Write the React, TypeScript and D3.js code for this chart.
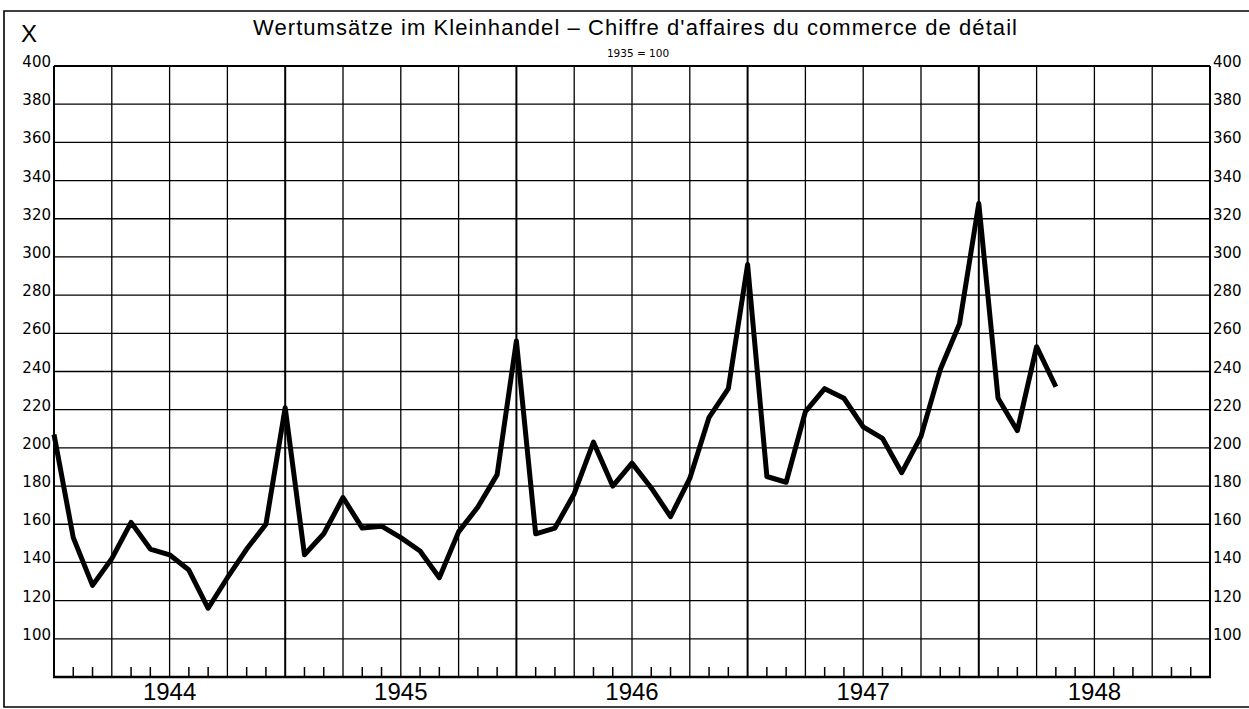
import React, { useEffect, useRef } from 'react';
import * as d3 from 'd3';

// monthly index values, Dec 1943 .. Apr 1948 (1935 = 100)
const values = [
  207, 153, 128, 142, 161, 147, 144, 136, 116, 132, 147, 160,
  221, 144, 155, 174, 158, 159, 153, 146, 132, 156, 169, 186,
  256, 155, 158, 176, 203, 180, 192, 179, 164, 184, 216, 231,
  296, 185, 182, 219, 231, 226, 211, 205, 187, 206, 241, 265,
  328, 226, 209, 253, 232,
];
const yearLabels = ['1944', '1945', '1946', '1947', '1948'];
const yTicks = [100, 120, 140, 160, 180, 200, 220, 240, 260, 280, 300, 320, 340, 360, 380, 400];
const title = "Wertumsätze im Kleinhandel – Chiffre d'affaires du commerce de détail";
const subtitle = '1935 = 100';
const cornerLabel = 'X';

const App: React.FC = () => {
  const svgRef = useRef<SVGSVGElement>(null);

  useEffect(() => {
    const svg = d3.select(svgRef.current);
    svg.selectAll('*').remove();

    const left = 54, right = 1210, top = 66, bottom = 677;
    const nMonths = 60;

    const x = d3.scaleLinear().domain([0, nMonths]).range([left, right]);
    const y = d3.scaleLinear().domain([80, 400]).range([bottom, top]);

    const numFont = 'DejaVu Sans';
    const txtFont = 'Liberation Sans';

    // outer frame
    svg.append('path')
      .attr('d', `M1249,11 H4 V707 H1249`)
      .attr('fill', 'none')
      .attr('stroke', '#000')
      .attr('stroke-width', 1.6);

    // horizontal grid
    svg.append('g').selectAll('line')
      .data(yTicks)
      .enter().append('line')
      .attr('x1', left).attr('x2', right)
      .attr('y1', d => y(d)).attr('y2', d => y(d))
      .attr('stroke', '#000')
      .attr('stroke-width', d => d === 400 ? 2 : 1.3);

    // vertical grid (quarters), heavier at year boundaries
    svg.append('g').selectAll('line')
      .data(d3.range(0, nMonths + 1, 3))
      .enter().append('line')
      .attr('x1', d => x(d)).attr('x2', d => x(d))
      .attr('y1', top).attr('y2', bottom)
      .attr('stroke', '#000')
      .attr('stroke-width', d => d % 12 === 0 ? 2 : 1.3);

    // month ticks
    svg.append('g').selectAll('line')
      .data(d3.range(1, nMonths).filter(d => d % 3 !== 0))
      .enter().append('line')
      .attr('x1', d => x(d)).attr('x2', d => x(d))
      .attr('y1', bottom).attr('y2', bottom - 10)
      .attr('stroke', '#000')
      .attr('stroke-width', 1.5);

    // base line
    svg.append('line')
      .attr('x1', left - 1).attr('x2', right + 1)
      .attr('y1', bottom).attr('y2', bottom)
      .attr('stroke', '#000')
      .attr('stroke-width', 2.6);

    // y labels, left and right
    svg.append('g').selectAll('text')
      .data(yTicks)
      .enter().append('text')
      .attr('x', left - 3)
      .attr('y', d => y(d) + 1)
      .attr('text-anchor', 'end')
      .attr('font-family', numFont)
      .attr('font-size', 15)
      .text(d => d);

    svg.append('g').selectAll('text')
      .data(yTicks)
      .enter().append('text')
      .attr('x', right + 3)
      .attr('y', d => y(d) + 1)
      .attr('text-anchor', 'start')
      .attr('font-family', numFont)
      .attr('font-size', 15)
      .text(d => d);

    // year labels centred on each year
    svg.append('g').selectAll('text')
      .data(yearLabels)
      .enter().append('text')
      .attr('x', (d, i) => x(i * 12 + 6))
      .attr('y', 700)
      .attr('text-anchor', 'middle')
      .attr('font-family', txtFont)
      .attr('font-size', 24)
      .text(d => d);

    // data line
    const line = d3.line<number>()
      .x((d, i) => x(i))
      .y(d => y(d));

    svg.append('path')
      .datum(values)
      .attr('d', line)
      .attr('fill', 'none')
      .attr('stroke', '#000')
      .attr('stroke-width', 5)
      .attr('stroke-linejoin', 'round');

    // titles
    svg.append('text')
      .attr('x', 635)
      .attr('y', 35)
      .attr('text-anchor', 'middle')
      .attr('font-family', txtFont)
      .attr('font-size', 22)
      .attr('textLength', 764)
      .attr('lengthAdjust', 'spacing')
      .text(title);

    svg.append('text')
      .attr('x', 638)
      .attr('y', 57)
      .attr('text-anchor', 'middle')
      .attr('font-family', numFont)
      .attr('font-size', 10.5)
      .text(subtitle);

    svg.append('text')
      .attr('x', 21)
      .attr('y', 42)
      .attr('font-family', txtFont)
      .attr('font-size', 24)
      .text(cornerLabel);
  }, []);

  return (
    <svg
      ref={svgRef}
      width={1249}
      height={709}
      style={{ position: 'absolute', left: 0, top: 0, background: '#fff' }}
    />
  );
};

export default App;
